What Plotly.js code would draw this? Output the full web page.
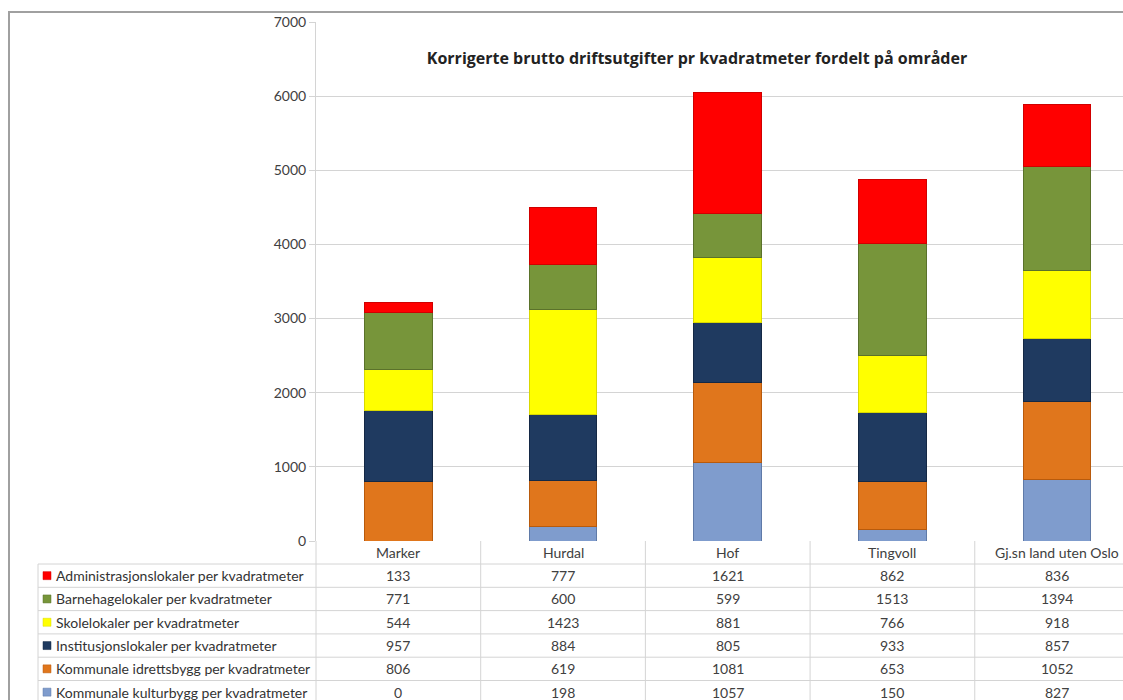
<!DOCTYPE html>
<html>
<head>
<meta charset="utf-8">
<script src="https://cdn.plot.ly/plotly-3.0.1.min.js"></script>
<style>html,body{margin:0;padding:0;background:#fff;overflow:hidden}</style>
</head>
<body>
<div id="chart" style="width:1123px;height:700px"></div>
<script>
// ---- data ----
const categories = ["Marker", "Hurdal", "Hof", "Tingvoll", "Gj.sn land uten Oslo"];
// series in table order (top row first)
const seriesNames = [
  "Administrasjonslokaler per kvadratmeter",
  "Barnehagelokaler per kvadratmeter",
  "Skolelokaler per kvadratmeter",
  "Institusjonslokaler per kvadratmeter",
  "Kommunale idrettsbygg per kvadratmeter",
  "Kommunale kulturbygg per kvadratmeter"
];
const administrasjon = [133, 777, 1621, 862, 836];
const barnehage = [771, 600, 599, 1513, 1394];
const skole = [544, 1423, 881, 766, 918];
const institusjon = [957, 884, 805, 933, 857];
const idrett = [806, 619, 1081, 653, 1052];
const kultur = [0, 198, 1057, 150, 827];
const seriesValues = [administrasjon, barnehage, skole, institusjon, idrett, kultur];
const seriesColors = ["#ff0000", "#77953a", "#ffff00", "#1f3a60", "#e0761c", "#7f9ccd"];
const seriesLines = ["#d00000", "#5a722a", "#d8d800", "#142845", "#b85a0c", "#5f7aa8"];
const yTicks = [0, 1000, 2000, 3000, 4000, 5000, 6000, 7000];
const titleText = "Korrigerte brutto driftsutgifter pr kvadratmeter fordelt på områder";

// ---- layout geometry ----
const W = 1123, H = 700, L = 316, R = 0, T = 22, B = 159;
const plotW = W - L - R, plotH = H - T - B;
const xr = [-0.5, 4.4];
const px = p => (p - L) / plotW;            // pixel x -> paper
const py = p => (H - B - p) / plotH;         // pixel y -> paper
const cxPaper = v => (v - xr[0]) / (xr[1] - xr[0]);
const font = "Lato, 'Open Sans', sans-serif";
const txtColor = "#404040";
const gridColor = "#d4d4d4";

// ---- traces (stack bottom -> top) ----
const traces = [];
for (let k = seriesNames.length - 1; k >= 0; k--) {
  traces.push({
    type: "bar",
    name: seriesNames[k],
    x: categories,
    y: seriesValues[k],
    width: 0.41,
    marker: { color: seriesColors[k], line: { color: seriesLines[k], width: 1 } },
    hoverinfo: "x+y+name"
  });
}

// ---- table ----
const headerTop = 541, rowTop = 564, rowH = 23.3, tableLeft = 38;
const shapes = [], annotations = [];
// frame
shapes.push({type: "line", xref: "paper", yref: "paper", x0: px(8), x1: px(W), y0: py(12), y1: py(12), line: {color: "#a0a0a0", width: 2}});
shapes.push({type: "line", xref: "paper", yref: "paper", x0: px(9), x1: px(9), y0: py(12), y1: py(H), line: {color: "#a0a0a0", width: 2}});
// horizontal row lines
for (let r = 0; r <= seriesNames.length; r++) {
  const yy = rowTop + r * rowH;
  shapes.push({type: "line", xref: "paper", yref: "paper", x0: px(tableLeft), x1: px(W), y0: py(yy), y1: py(yy), line: {color: gridColor, width: 1}});
}
// left border of label column
shapes.push({type: "line", xref: "paper", yref: "paper", x0: px(tableLeft), x1: px(tableLeft), y0: py(rowTop), y1: py(H), line: {color: gridColor, width: 1}});
// vertical column lines
for (let i = 0; i < categories.length; i++) {
  const xv = cxPaper(i - 0.5);
  shapes.push({type: "line", xref: "paper", yref: "paper", x0: xv, x1: xv, y0: py(headerTop), y1: py(H), line: {color: gridColor, width: 1}});
}
// header labels
categories.forEach((c, i) => {
  annotations.push({xref: "x", yref: "paper", x: i, y: py(headerTop + 11.5), text: c, showarrow: false,
    xanchor: "center", yanchor: "middle", font: {family: font, size: 14, color: txtColor}});
});
// rows
seriesNames.forEach((name, r) => {
  const yc = rowTop + r * rowH + rowH / 2;
  shapes.push({type: "rect", xref: "paper", yref: "paper", x0: px(43), x1: px(51), y0: py(yc - 4), y1: py(yc + 4),
    fillcolor: seriesColors[r], line: {color: seriesLines[r], width: 0.5}});
  annotations.push({xref: "paper", yref: "paper", x: px(54), y: py(yc), text: name, showarrow: false,
    xanchor: "left", yanchor: "middle", font: {family: font, size: 14, color: "#333"}});
  seriesValues[r].forEach((v, i) => {
    annotations.push({xref: "x", yref: "paper", x: i, y: py(yc), text: String(v), showarrow: false,
      xanchor: "center", yanchor: "middle", font: {family: font, size: 14, color: txtColor}});
  });
});

const layout = {
  width: W, height: H,
  margin: {l: L, r: R, t: T, b: B, pad: 0},
  paper_bgcolor: "#ffffff", plot_bgcolor: "#ffffff",
  barmode: "stack",
  showlegend: false,
  title: {text: "<b>" + titleText + "</b>", x: 697 / W, xanchor: "center", xref: "container",
    y: 1 - 58 / H, yanchor: "middle", yref: "container", font: {family: "'Open Sans', Lato, sans-serif", size: 16, color: "#222"}},
  xaxis: {type: "category", range: xr, showticklabels: false, showgrid: false, zeroline: false,
    showline: false, ticks: "", fixedrange: true},
  yaxis: {range: [0, 7000], tickvals: yTicks, ticktext: yTicks.map(String), showgrid: true, gridcolor: gridColor, gridwidth: 1,
    zeroline: false, showline: true, linecolor: gridColor, linewidth: 1, ticks: "outside", ticklen: 6, tickcolor: gridColor,
    tickfont: {family: font, size: 14, color: txtColor}, fixedrange: true},
  shapes: shapes,
  annotations: annotations
};

Plotly.newPlot("chart", traces, layout, {displayModeBar: false, staticPlot: true});
</script>
</body>
</html>
